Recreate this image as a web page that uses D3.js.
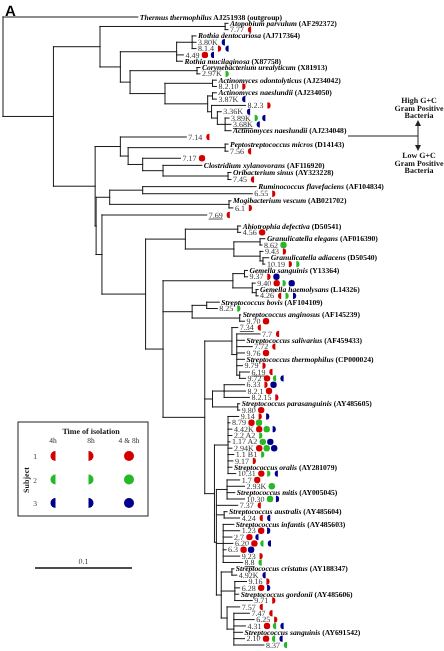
<!DOCTYPE html>
<html><head><meta charset="utf-8">
<script src="https://cdn.jsdelivr.net/npm/d3@7"></script>
<style>
body{margin:0;background:#fff;}
svg{display:block;will-change:transform;}
svg text{-webkit-font-smoothing:antialiased;text-rendering:geometricPrecision;}
</style></head><body>
<svg id="chart" width="444" height="651"></svg>
<script>
// ---------------- DATA ----------------
// leaf labels in top-to-bottom order (leaf ids L0..L97 in the Newick strings)
const leafNames = ["Thermus thermophilus","Atopobium parvulum","7.77","Rothia dentocariosa","3.80K","8.1.4","4.49","Rothia mucilaginosa","Corynebacterium urealyticum","2.97K","Actinomyces odontolyticus","8.2.10","Actinomyces naeslundii","3.87K","8.2.3","3.36K","3.89K","3.68K","Actinomyces naeslundii","7.14","Peptostreptococcus micros","7.56","7.17","Clostridium xylanovorans","Oribacterium sinus","7.45","Ruminococcus flavefaciens","6.55","Mogibacterium vescum","6.1","7.69","Abiotrophia defectiva","4.56","Granulicatella elegans","8.62","9.43","Granulicatella adiacens","10.19","Gemella sanguinis","9.37","9.40","Gemella haemolysans","4.26","Streptococcus bovis","8.25","Streptococcus anginosus","9.70","7.34","7.7","Streptococcus salivarius","7.72","9.76","Streptococcus thermophilus","9.79","6.19","9.72","6.33","8.2.1","8.2.15","Streptococcus parasanguinis","9.80","9.14","8.79","4.42K","2.2 A2","1.17 A2","2.94K","1.1 B1","9.17","Streptococcus oralis","10.31","1.7","2.93K","Streptococcus mitis","10.30","7.37","Streptococcus australis","4.24","Streptococcus infantis","1.23","2.7","6.20","6.3","9.23","8.8","Streptococcus cristatus","4.92K","9.16","6.28","Streptococcus gordonii","9.71","7.57","7.47","6.25","4.31","Streptococcus sanguinis","2.10","8.37"];

// reference species: [leaf id, accession]
const speciesAccessions = [[0,"AJ251938 (outgroup)"],[1,"(AF292372)"],[3,"(AJ717364)"],[7,"(X87758)"],[8,"(X81913)"],[10,"(AJ234042)"],[12,"(AJ234050)"],[18,"(AJ234048)"],[20,"(D14143)"],[23,"(AF116920)"],[24,"(AY323228)"],[26,"(AF104834)"],[28,"(AB021702)"],[31,"(D50541)"],[33,"(AF016390)"],[36,"(D50540)"],[38,"(Y13364)"],[41,"(L14326)"],[43,"(AF104109)"],[45,"(AF145239)"],[49,"(AF459433)"],[52,"(CP000024)"],[59,"(AY485605)"],[69,"(AY281079)"],[73,"(AY005045)"],[76,"(AY485604)"],[78,"(AY485603)"],[85,"(AY188347)"],[89,"(AY485606)"],[95,"(AY691542)"]];

// isolate markers: subject (1,2,3) : time of isolation (4h, 8h, both)
const isolateMarkers = [
 ["7.77","1:4h"],["3.80K","3:4h"],["8.1.4","1:8h 3:4h"],["4.49","1:both 3:4h"],["2.97K","2:8h"],
 ["8.2.10","1:8h"],["3.87K","3:4h"],["8.2.3","1:8h"],["3.36K","3:4h"],["3.89K","2:8h 3:4h"],["3.68K","3:4h"],
 ["7.14","1:4h"],["7.56","1:4h"],["7.17","1:both"],["7.45","1:4h"],["6.55","1:8h"],["6.1","1:8h"],["7.69","1:4h"],
 ["4.56","1:both"],["8.62","2:both"],["9.43","1:8h"],["10.19","1:8h 2:8h"],["9.37","1:8h 3:both"],
 ["9.40","1:both 2:8h 3:both"],["4.26","1:4h 2:8h 3:8h"],["8.25","2:8h"],["9.70","1:both"],["7.34","1:4h"],
 ["7.7","1:4h"],["7.72","1:4h"],["9.76","1:both"],["9.79","1:8h"],["6.19","1:4h"],["9.72","1:both 2:4h 3:4h"],
 ["6.33","1:8h 3:both"],["8.2.1","1:both"],["8.2.15","1:8h"],["9.80","1:both"],["9.14","1:8h 3:8h"],
 ["8.79","1:both 2:both"],["4.42K","1:both 2:both 3:8h"],["2.2 A2","2:8h"],["1.17 A2","2:both 3:both"],
 ["2.94K","1:both 2:both 3:both"],["1.1 B1","2:8h"],["9.17","1:8h"],["10.31","1:both 2:8h 3:4h"],["1.7","1:both"],
 ["2.93K","2:both"],["10.30","2:both 3:8h"],["7.37","1:4h"],["4.24","1:4h 3:4h"],["1.23","1:both 3:8h"],
 ["2.7","1:both 3:4h"],["6.20","1:both 2:4h 3:4h"],["6.3","1:both 3:both"],["9.23","1:8h"],["8.8","2:4h"],
 ["4.92K","3:4h"],["9.16","1:8h"],["6.28","1:both 3:8h"],["9.71","1:8h"],["7.57","1:4h"],["7.47","1:4h"],
 ["6.25","1:8h"],["4.31","1:both 2:4h 3:4h"],["2.10","1:both 2:4h 3:4h"],["8.37","2:4h"]
];
const underlinedIsolates = ["3.68K","7.69","7.34","6.19","8.8"];

// tree topology, branch lengths in 1/1000 substitutions per site
const cladeActino = "((L1:3,L2:3):129,(((L3:4,L4:4,L5:4):16,L6:7,L7:6):58,((L8:3,L9:3):69,((L10:4,L11:4):49,((L12:4,L13:4):5,(L14:35,(L15:4,(L16:4,L17:6,L18:6):8):6):4):44):36):10):21)";
const cladeClost = "(L19:68,((L20:3,L21:3):100,(L22:39,(L23:40,(L24:3,L25:3):67):21):15):8)";
const cladeRumino = "((L26:117,L27:113):34,(L28:2,L29:4):123)";
const cladeAbioGran = "((L31:3,L32:3):54,((L33:5,L34:2):27,(L35:3,(L36:6,L37:2):3):27):50)";
const cladeGemella = "((L38:3,L39:3):12,(L40:3,(L41:2,L42:2):4):20)";
const cladeBovis = "((L43:13,L44:11):15,(L45:1,L46:5):49)";
const cladeSalivarius = "(L47:6,(L48:24,L49:8,L50:16,L51:8,L52:8,L53:6,(L54:10,L55:6):3):5)";
const cladeParasang = "((L56:21,L57:22,L58:26):12,(L59:2,L60:2):26)";
const cladeOralis = "(L61:11,L62:2,L63:4,L64:4,L65:2,L66:4,L67:6,L68:5,L69:4,L70:8)";
const cladeMitis = "(L71:13,L72:18,L73:8,L74:18)";
const cladeAustralis = "(L76:3,L77:16)";
const cladeInfantis = "(L78:11,L79:17,L80:9,L81:10,L82:3,L83:17,L84:20)";
const cladeGordonii = "((L85:2,L86:5):11,(L87:12,L88:5,L89:4,L90:18):14,(L91:13,(L92:16,L93:21,L94:12,L95:9,L96:11,L97:31):7):6)";
const cladeLowB = `(${cladeMitis}:11,L75:22,${cladeAustralis}:8,${cladeInfantis}:7,${cladeGordonii}:5)`;
const cladeLow = `(${cladeOralis}:14,${cladeLowB}:2)`;
const cladeStrep = `(${cladeSalivarius}:28,${cladeParasang}:8,${cladeLow}:10)`;
const cladeLacto = `(${cladeAbioGran}:41,(${cladeGemella}:72,${cladeBovis}:30,${cladeStrep}:43):18)`;
const cladeFirm = `(${cladeClost}:26,(${cladeRumino}:14,(L30:108,${cladeLacto}:45):6):1)`;
const treeNewick = `(L0:139,(${cladeActino}:48,${cladeFirm}:43):52);`;

const scaleBarValue = 0.1;
const legendTimes = ["4h","8h","4 & 8h"];
const legendTimeCodes = ["4h","8h","both"];
const legendSubjects = ["1","2","3"];
const subjectColors = {"1":"#d40000","2":"#27b827","3":"#00008c"};
const groupTop = ["High G+C","Gram Positive","Bacteria"];
const groupBottom = ["Low G+C","Gram Positive","Bacteria"];

// leaf slot -> vertical position (piecewise to follow the figure's spacing)
const leafSlotDomain = [0,19,30,31,97];
const leafSlotRange = [17,137,215,226,645];

// ---------------- RENDER ----------------
function parseNewick(s){
  let i=0;
  function node(){
    const n={};
    if(s[i]==='('){
      i++; n.children=[];
      n.children.push(node());
      while(s[i]===','){ i++; n.children.push(node()); }
      i++; // ')'
    }
    let name='';
    while(i<s.length && !':,();'.includes(s[i])) name+=s[i++];
    n.name=name;
    if(s[i]===':'){ i++; let num=''; while(i<s.length && !',();'.includes(s[i])) num+=s[i++]; n.length=+num; }
    else n.length=0;
    return n;
  }
  return node();
}

const svg = d3.select("#chart");
const serif = "'Liberation Serif','Times New Roman',Times,serif";
const x = d3.scaleLinear().domain([0, scaleBarValue]).range([3, 100]);
const y = d3.scaleLinear().domain(leafSlotDomain).range(leafSlotRange);

const root = d3.hierarchy(parseNewick(treeNewick), d => d.children);
root.eachBefore(d => { d.dist = d.parent ? d.parent.dist + d.data.length/1000 : 0; });
root.eachAfter(d => {
  if (d.children) d.py = (d.children[0].py + d.children[d.children.length-1].py)/2;
  else { d.leaf = +d.data.name.slice(1); d.py = y(d.leaf); }
});

const segs = [];
root.each(d => {
  if (d.parent) segs.push([x(d.parent.dist), d.py, x(d.dist), d.py]);
  if (d.children) segs.push([x(d.dist), d.children[0].py, x(d.dist), d.children[d.children.length-1].py]);
});
svg.append("g").attr("stroke","#1a1a1a").attr("stroke-width",1).attr("fill","none").attr("stroke-linecap","square")
  .selectAll("line").data(segs).join("line")
  .attr("x1",d=>d[0]).attr("y1",d=>d[1]).attr("x2",d=>d[2]).attr("y2",d=>d[3]);

const accMap = new Map(speciesAccessions);
const markerMap = new Map(isolateMarkers);

function markerPath(cx, cy, r, time){
  if (time === "both") return `M${cx},${cy-r}A${r},${r} 0 1,1 ${cx},${cy+r}A${r},${r} 0 1,1 ${cx},${cy-r}Z`;
  if (time === "4h") { const fx = cx + r/2; return `M${fx},${cy-r}A${r},${r} 0 0,0 ${fx},${cy+r}Z`; }
  const fx = cx - r/2; return `M${fx},${cy-r}A${r},${r} 0 0,1 ${fx},${cy+r}Z`;
}

const labels = svg.append("g").attr("font-family", serif);
const markG = svg.append("g");
root.leaves().forEach(d => {
  const i = d.leaf, name = leafNames[i];
  const t = labels.append("text").attr("x", x(d.dist)+2).attr("y", d.py).attr("dy","0.33em");
  if (accMap.has(i)) {
    t.attr("font-size",7.6).attr("font-weight","bold").attr("fill","#000");
    t.append("tspan").attr("font-style","italic").text(name);
    t.append("tspan").text(" " + accMap.get(i));
  } else {
    t.attr("font-size",8).attr("fill","#333").text(name);
    if (underlinedIsolates.includes(name)) t.attr("text-decoration","underline");
    const codes = markerMap.get(name);
    if (codes) {
      const end = x(d.dist)+2 + t.node().getComputedTextLength();
      codes.split(" ").forEach((c,k) => {
        const [subj, time] = c.split(":");
        markG.append("path").attr("d", markerPath(end + 5.5 + k*7.5, d.py, 3.2, time)).attr("fill", subjectColors[subj]);
      });
    }
  }
});

// panel letter
svg.append("text").attr("x",5).attr("y",16).attr("font-family","'Liberation Sans',Arial,sans-serif")
  .attr("font-weight","bold").attr("font-size",15).text("A");

// group annotation
const ann = svg.append("g").attr("font-family", serif).attr("font-weight","bold").attr("font-size",8).attr("text-anchor","middle").attr("fill","#111");
groupTop.forEach((s,k)=> ann.append("text").attr("x",419).attr("y",103+k*7.7).text(s));
groupBottom.forEach((s,k)=> ann.append("text").attr("x",419).attr("y",158+k*7.7).text(s));
svg.append("line").attr("x1",348).attr("x2",418).attr("y1",136).attr("y2",136).attr("stroke","#222");
svg.append("line").attr("x1",418).attr("x2",418).attr("y1",124).attr("y2",147).attr("stroke","#222");
svg.append("path").attr("d","M415,126L418,120L421,126Z").attr("fill","#222");
svg.append("path").attr("d","M415,145L418,151L421,145Z").attr("fill","#222");

// legend
const lg = svg.append("g").attr("font-family", serif);
lg.append("rect").attr("x",18).attr("y",422).attr("width",130).attr("height",94).attr("fill","#fff").attr("stroke","#222").attr("stroke-width",1);
lg.append("text").attr("x",91).attr("y",434).attr("text-anchor","middle").attr("font-weight","bold").attr("font-size",8).attr("fill","#111").text("Time of isolation");
const colX = d3.scalePoint().domain(legendTimeCodes).range([53,129]);
const rowY = d3.scalePoint().domain(legendSubjects).range([456,503]);
legendTimes.forEach((s,k)=> lg.append("text").attr("x",colX(legendTimeCodes[k])).attr("y",443).attr("text-anchor","middle").attr("font-size",7.5).attr("fill","#333").text(s));
legendSubjects.forEach(sj => {
  lg.append("text").attr("x",35).attr("y",rowY(sj)+3).attr("text-anchor","middle").attr("font-size",7.5).attr("fill","#333").text(sj);
  legendTimeCodes.forEach(tc => lg.append("path").attr("d", markerPath(colX(tc), rowY(sj), 5, tc)).attr("fill", subjectColors[sj]));
});
lg.append("text").attr("transform","translate(29,480) rotate(-90)").attr("text-anchor","middle").attr("font-weight","bold").attr("font-size",8).attr("fill","#111").text("Subject");

// scale bar
const barX0 = 35;
svg.append("line").attr("x1",barX0).attr("x2",barX0 + x(scaleBarValue)-x(0)).attr("y1",568).attr("y2",568).attr("stroke","#111").attr("stroke-width",1.5);
svg.append("text").attr("x",barX0 + (x(scaleBarValue)-x(0))/2).attr("y",564).attr("text-anchor","middle").attr("font-family",serif).attr("font-size",8).attr("fill","#444").text(scaleBarValue);
</script>
</body></html>
